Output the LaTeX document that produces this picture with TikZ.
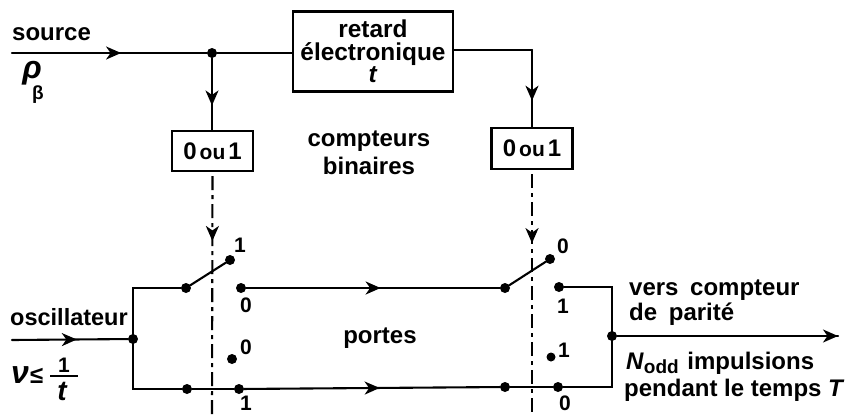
\documentclass[tikz,border=0pt]{standalone}
\usepackage{fontspec}
\setmainfont{Liberation Sans}
\usetikzlibrary{arrows.meta,decorations.markings}
\tikzset{
  wire/.style={line width=2.1pt,line cap=round,line join=miter},
  tip/.tip={Stealth[length=15pt,width=13pt,inset=4.5pt]},
  midarrow/.style={postaction={decorate},decoration={markings,mark=at position #1 with {\arrow{tip}}}},
  ctrl/.style={line width=2.1pt,dash pattern=on 14pt off 5pt on 4pt off 5pt},
  dot/.style={circle,fill=black,inner sep=0pt,minimum size=10pt},
  sdot/.style={circle,fill=black,inner sep=0pt,minimum size=9pt},
  boxn/.style={draw,line width=2.4pt,inner sep=0pt,align=center},
  lab/.style={inner sep=0pt,font=\fontsize{24}{25}\selectfont\bfseries},
  digit/.style={inner sep=0pt,font=\fontsize{21}{21}\selectfont\bfseries},
}
\newcommand{\zou}{\fontsize{24}{24}\selectfont 0\hspace{3pt}{\fontsize{21}{21}\selectfont ou}\hspace{3pt}1}
\begin{document}
\begin{tikzpicture}[x=1pt,y=-1pt]
\useasboundingbox (0,0) rectangle (852,416);
% top
\coordinate (src) at (12,53);
\node[dot] (j1) at (212,53) {};
\node[boxn,minimum width=160pt,minimum height=80pt,font=\fontsize{24.4}{22.5}\selectfont\bfseries] (delay) at (373,51.5) {retard\\électronique\\\textit{t}};
\node[boxn,minimum width=81pt,minimum height=40pt,font=\bfseries] (b1) at (212.5,151) {\zou};
\node[boxn,minimum width=81pt,minimum height=41pt,font=\bfseries] (b2) at (532,148.5) {\zou};
\coordinate (c1) at (532,50);
\draw[wire,midarrow=0.56] (src) -- (j1);
\draw[wire] (j1) -- (j1 -| delay.west);
\draw[wire,midarrow=0.66] (j1) -- (j1 |- b1.north);
\draw[wire,midarrow=0.66] (c1) -- (b2.north);
\draw[wire] (delay.east |- c1) -- (c1);
% control lines
\coordinate (e1) at (212,416);
\coordinate (e2) at (532,416);
\draw[ctrl,midarrow=0.27] (b1.south) ++(0,4) -- (e1);
\draw[ctrl,midarrow=0.285] (b2.south) ++(0,4) -- (e2);
% lower network
\coordinate (osc) at (12,340);
\node[dot] (j2) at (133,339) {};
\coordinate (cTL) at (133,288);
\coordinate (cBL) at (133,389);
\node[dot] (sa) at (186,288) {};
\node[dot] (sb) at (230,260) {};
\node[dot] (sc) at (241,288) {};
\node[dot] (sd) at (505,288) {};
\node[dot] (se) at (550,259) {};
\node[dot] (sf) at (559,287) {};
\coordinate (cTR) at (612,287);
\node[dot] (j3) at (612,336) {};
\coordinate (cBR) at (612,387);
\node[dot] (ta) at (187,389) {};
\node[dot] (tc) at (239,389) {};
\node[dot] (td) at (505,387) {};
\node[dot] (tf) at (558,387) {};
\node[dot] (fa) at (232,359) {};
\node[sdot] (fb) at (551,357) {};
\coordinate (out) at (838,336);
\draw[wire,midarrow=0.56] (osc) -- (j2);
\draw[wire] (sa) -- (cTL) -- (cBL) -- (ta) -- (tc);
\draw[wire] (sa) -- (sb);
\draw[wire,midarrow=0.53] (sc) -- (sd);
\draw[wire] (sd) -- (se);
\draw[wire] (sf) -- (cTR) -- (cBR) -- (tf) -- (td);
\draw[wire,midarrow=0.53] (tc) -- (td);
\draw[wire,midarrow=1] (j3) -- (out);
% texts
\node[lab,anchor=base west] (tsource) at (12,40) {source};
\node[inner sep=0pt,anchor=base,font=\fontsize{32}{32}\selectfont\bfseries\itshape] (trho) at (32,78) {ρ};
\node[inner sep=0pt,anchor=base,font=\fontsize{19}{19}\selectfont\bfseries] (tbeta) at (38,99) {β};
\node[lab,align=center] (tcompt) at (369,153) {compteurs\\[3pt]binaires};
\node[lab,anchor=base] (tportes) at (380,343) {portes};
\node[inner sep=0pt,anchor=base west,font=\fontsize{23.5}{24}\selectfont\bfseries] (tosc) at (10,325) {oscillateur};
\node[inner sep=0pt,anchor=base west,font=\fontsize{32}{32}\selectfont\bfseries\itshape] (tnu) at (11,383) {ν};
\node[inner sep=0pt,anchor=base west,font=\fontsize{24}{24}\selectfont\bfseries] (tle) at (30,383) {≤};
\node[inner sep=0pt,anchor=base,font=\fontsize{21}{21}\selectfont\bfseries] (tone) at (64,372) {1};
\node[inner sep=0pt,anchor=base,font=\fontsize{28}{28}\selectfont\bfseries\itshape] (tt) at (62,400) {t};
\coordinate (fr1) at (50,375.5);
\coordinate (fr2) at (78,375.5);
\draw[line width=2pt] (fr1) -- (fr2);
\node[digit] at (240,245) {1};
\node[digit] at (246,305) {0};
\node[digit] at (246,347) {0};
\node[digit] at (246,403) {1};
\node[digit] at (563,246) {0};
\node[digit] at (563,306) {1};
\node[digit] at (564,350) {1};
\node[digit] at (565,403) {0};
\node[lab,align=left,anchor=north west] (tvers) at (629,280) {vers\hspace{5pt} compteur\\de\hspace{5pt} parité};
\node[lab,align=left,anchor=north west] (tn) at (626,352) {\textit{N}\raisebox{-4pt}{\fontsize{19}{19}\selectfont odd}\hspace{2pt} impulsions\\[2pt]\hspace{-2pt}pendant le temps \textit{T}};
\end{tikzpicture}
\end{document}
